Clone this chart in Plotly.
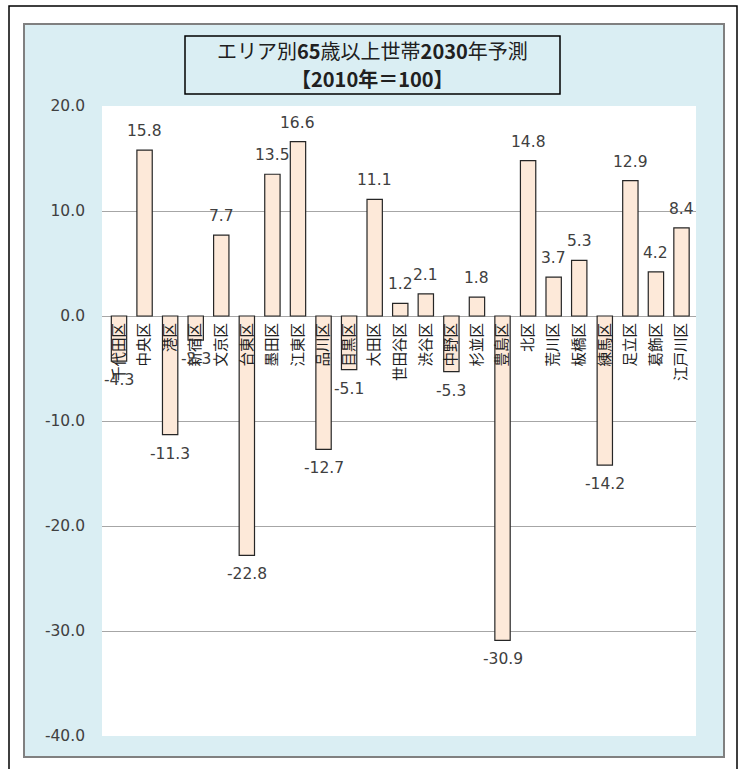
import plotly.graph_objects as go

# 東京23区 65歳以上世帯数 2030年予測（2010年＝100 からの増減）
wards = ["千代田区", "中央区", "港区", "新宿区", "文京区", "台東区", "墨田区", "江東区",
         "品川区", "目黒区", "大田区", "世田谷区", "渋谷区", "中野区", "杉並区", "豊島区",
         "北区", "荒川区", "板橋区", "練馬区", "足立区", "葛飾区", "江戸川区"]
change = [-4.3, 15.8, -11.3, -2.3, 7.7, -22.8, 13.5, 16.6,
          -12.7, -5.1, 11.1, 1.2, 2.1, -5.3, 1.8, -30.9,
          14.8, 3.7, 5.3, -14.2, 12.9, 4.2, 8.4]
y_ticks = [20, 10, 0, -10, -20, -30, -40]
title_lines = ["エリア別<b>65</b>歳以上世帯<b>2030</b>年予測", "<b>【2010年＝100】</b>"]

W, H = 742, 769
L, R, T, B = 102, 46, 106, 33
PW, PH = W - L - R, H - T - B


def px_x(p):
    return (p - L) / PW


def px_y(p):
    return (H - B - p) / PH


PANEL = "#DAEEF3"
BAR_FILL = "#FDE9D9"
TEXT = "#404040"
NUM_FONT = "DejaVu Sans"
JP_FONT = "Noto Sans CJK JP"

fig = go.Figure()
fig.add_trace(go.Bar(
    x=wards, y=change, width=0.6,
    marker=dict(color=BAR_FILL, line=dict(color="#262626", width=1.2)),
    hoverinfo="x+y",
))

# value labels above / below each bar
for w, v in zip(wards, change):
    fig.add_annotation(
        x=w, y=v, text=f"{v:.1f}", showarrow=False,
        yanchor="bottom" if v >= 0 else "top",
        yshift=8 if v >= 0 else -8,
        font=dict(family=NUM_FONT, size=15.5, color=TEXT),
    )

# title box with two lines
fig.add_shape(type="rect", xref="paper", yref="paper",
              x0=px_x(185), x1=px_x(560), y0=px_y(94), y1=px_y(36),
              fillcolor=PANEL, line=dict(color="#000000", width=1.5))
for line, cy in zip(title_lines, [50, 79]):
    fig.add_annotation(
        xref="paper", yref="paper", x=px_x(372), y=px_y(cy),
        xanchor="center", yanchor="middle", showarrow=False,
        text=line, font=dict(family=JP_FONT, size=20, color="#202020"),
        borderpad=0,
    )

# chart area background panel and outer frame
fig.add_shape(type="rect", xref="paper", yref="paper", layer="below",
              x0=px_x(24), x1=px_x(724), y0=px_y(757), y1=px_y(24),
              fillcolor=PANEL, line=dict(color="#808080", width=2))
fig.add_shape(type="rect", xref="paper", yref="paper", layer="below",
              x0=px_x(102), x1=px_x(696), y0=px_y(736), y1=px_y(106),
              fillcolor="#FFFFFF", line=dict(width=0))
fig.add_shape(type="rect", xref="paper", yref="paper", layer="below",
              x0=px_x(9), x1=px_x(737), y0=px_y(790), y1=px_y(6),
              fillcolor="rgba(0,0,0,0)", line=dict(color="#000000", width=1.5))

fig.update_layout(
    width=W, height=H,
    margin=dict(l=L, r=R, t=T, b=B, pad=0),
    paper_bgcolor="#FFFFFF", plot_bgcolor="rgba(0,0,0,0)",
    showlegend=False, bargap=0.4,
    xaxis=dict(
        type="category", anchor="free", position=2 / 3,
        tickangle=-90, ticks="", showline=False, showgrid=False,
        tickfont=dict(family=JP_FONT, size=14.5, color="#202020"),
        ticklabelstandoff=3,
    ),
    yaxis=dict(
        range=[-40, 20], tickvals=y_ticks,
        ticktext=[f"{t:.1f}" for t in y_ticks],
        showgrid=True, gridcolor="#A6A6A6", gridwidth=1,
        zeroline=True, zerolinecolor="#A6A6A6", zerolinewidth=1,
        showline=False, ticks="",
        tickfont=dict(family=NUM_FONT, size=15.5, color=TEXT),
        ticklabelstandoff=16,
    ),
)

fig.write_html("out.html")
